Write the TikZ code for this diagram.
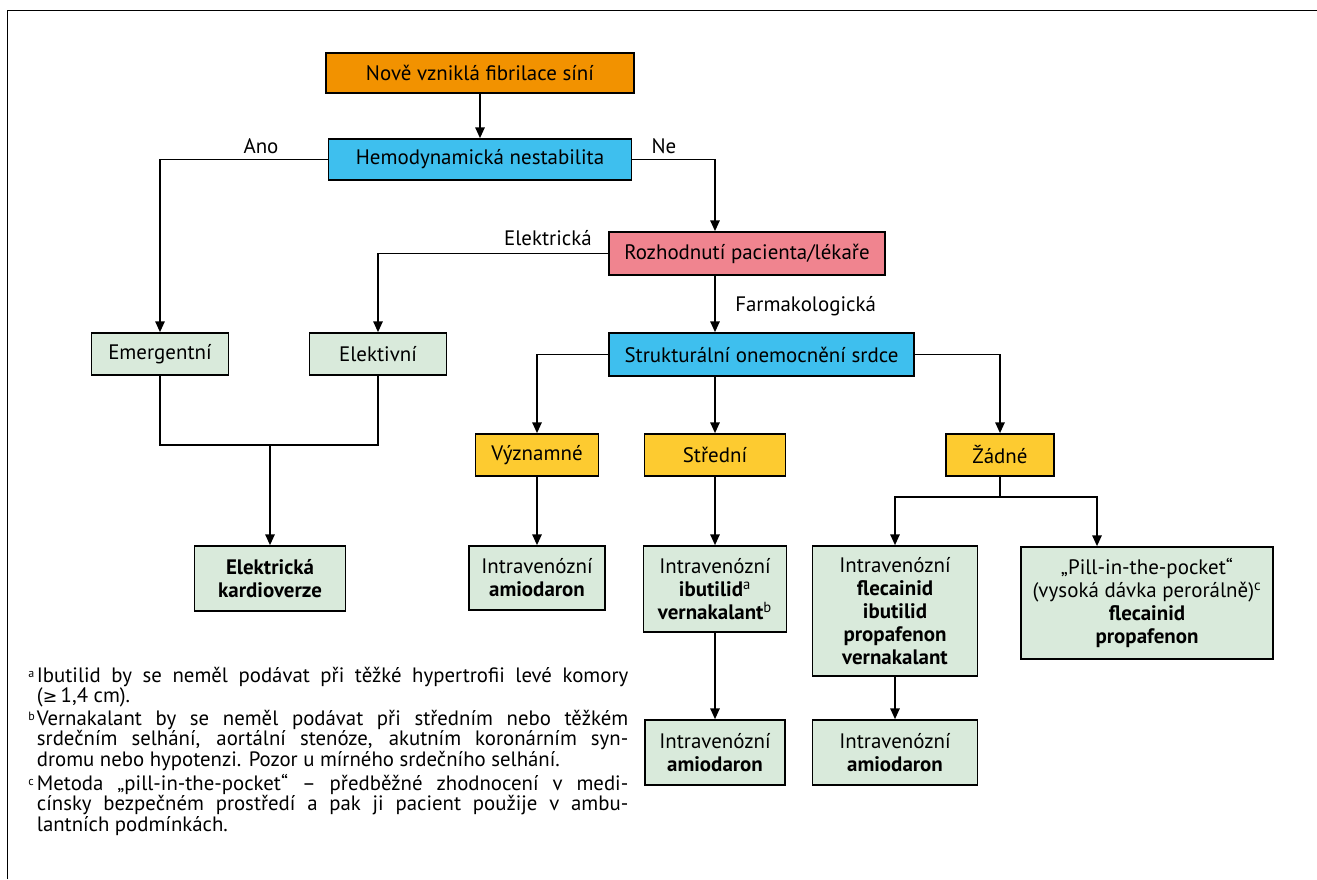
\documentclass[tikz,border=0pt]{standalone}
\usepackage{fontspec}
\setmainfont{PT Sans}
\newfontfamily\symfamily{DejaVu Sans}
\usetikzlibrary{arrows.meta,calc}

\definecolor{cOrange}{HTML}{F29200}
\definecolor{cCyan}{HTML}{3EBFEE}
\definecolor{cPink}{HTML}{F0848F}
\definecolor{cYellow}{HTML}{FDCB30}
\definecolor{cGreen}{HTML}{D9EADB}

\newcommand\boxfont{\fontsize{15.7}{17.2}\selectfont}
\newcommand\notefont{\fontsize{15.6}{15.2}\selectfont}
\newcommand\fnitem[2]{\noindent\hangindent=6.5pt\hangafter=1\makebox[6.5pt][l]{\raisebox{0.5ex}{\fontsize{9}{9}\selectfont #1}}#2\par}

\tikzset{
  box/.style 2 args={draw, line width=1.3pt, inner sep=0pt, align=center,
    font=\boxfont, minimum width=#1*0.75pt, minimum height=#2*0.75pt},
  lbl/.style={inner sep=0pt, font=\boxfont},
  link/.style={line width=1.1pt},
  arr/.style={link, -{Triangle[length=8pt,width=7pt]}},
}

\begin{document}
\begin{tikzpicture}[x=0.75pt, y=-0.75pt]
\useasboundingbox (0,0) rectangle (1317,879);

% frame
\draw[line width=1.4pt] (7.5,879) -- (7.5,10.5) -- (1317,10.5);

% column positions of vertical connectors
\coordinate (colmain) at (715,0);
\coordinate (colpill) at (1097,0);

% boxes
\node[box={308}{40}, fill=cOrange] (nove) at (480,73) {Nově vzniklá fibrilace síní};
\node[box={303}{41}, fill=cCyan] (hemo) at (480,159.5) {Hemodynamická nestabilita};
\node[box={276}{43}, fill=cPink] (rozh) at (747,253.5) {Rozhodnutí pacienta/lékaře};
\node[box={305}{43}, fill=cCyan] (strukt) at (761.5,354.5) {Strukturální onemocnění srdce};

\node[box={137}{42}, fill=cGreen] (emerg) at (160,354) {Emergentní};
\node[box={137}{42}, fill=cGreen] (elekt) at (378,354) {Elektivní};
\node[box={151}{65}, fill=cGreen] (kardio) at (270,578.5) {\bfseries Elektrická\\\bfseries kardioverze};

\node[box={123}{42}, fill=cYellow] (vyzn) at (537,455) {Významné};
\node[box={141}{42}, fill=cYellow] (stred) at (715,455) {Střední};
\node[box={108}{42}, fill=cYellow] (zadne) at (1000,455) {Žádné};

\node[box={136}{64}, fill=cGreen] (amio1) at (537,578) {Intravenózní\\\bfseries amiodaron};
\node[box={143}{86}, fill=cGreen] (ibut) at (715,589) {Intravenózní\\\textbf{ibutilid}\textsuperscript{a}\\\textbf{vernakalant}\textsuperscript{b}};
\node[box={165}{130}, fill=cGreen] (flec) at (895,611) {Intravenózní\\\bfseries flecainid\\\bfseries ibutilid\\\bfseries propafenon\\\bfseries vernakalant};
\node[box={252}{112}, fill=cGreen] (pill) at (1147,603) {„Pill-in-the-pocket“\\(vysoká dávka perorálně)\textsuperscript{c}\\\bfseries flecainid\\\bfseries propafenon};
\node[box={140}{65}, fill=cGreen] (amio2) at (715,752.5) {Intravenózní\\\bfseries amiodaron};
\node[box={165}{65}, fill=cGreen] (amio3) at (895,752.5) {Intravenózní\\\bfseries amiodaron};

% branch labels
\node[lbl] (ano) at (261,146) {Ano};
\node[lbl] (ne) at (664,146) {Ne};
\node[lbl, anchor=east] (elabel) at (592,238) {Elektrická};
\node[lbl, anchor=west] (flabel) at (735,306) {Farmakologická};

% connectors
\draw[arr] (nove) -- (hemo);
\draw[arr] (hemo.west) -| (emerg.north);
\draw[arr] (hemo.east) -| (rozh.north -| colmain);
\draw[arr] (rozh.west) -| (elekt.north);
\draw[arr] (rozh.south -| colmain) -- (strukt.north -| colmain);

\coordinate (join) at (270,445);
\draw[link] (emerg.south) |- (join) -| (elekt.south);
\draw[arr] (join) -- (kardio.north);

\draw[arr] (strukt.west) -| (vyzn.north);
\draw[arr] (strukt.south -| colmain) -- (stred.north);
\draw[arr] (strukt.east) -| (zadne.north);

\draw[arr] (vyzn) -- (amio1);
\draw[arr] (stred) -- (ibut);
\draw[arr] (ibut) -- (amio2);

\coordinate (split) at (1000,497);
\draw[link] (zadne.south) -- (split);
\draw[arr] (split) -| (flec.north);
\draw[arr] (split) -| (pill.north -| colpill);
\draw[arr] (flec) -- (amio3);

% footnotes
\node[anchor=north west, inner sep=0pt, text width=450pt, align=justify, font=\notefont] (notes) at (28,667) {%
  \tolerance=9999\hyphenpenalty=10000\emergencystretch=20pt\setlength{\parskip}{2pt}%
  \fnitem{a}{Ibutilid by se neměl podávat při těžké hypertrofii levé komory\linebreak ({\symfamily\fontsize{13}{13}\selectfont ≥}\,1,4 cm).}
  \fnitem{b}{Vernakalant by se neměl podávat při středním nebo těžkém\linebreak srdečním selhání, aortální stenóze, akutním koronárním syn-\linebreak dromu nebo hypotenzi. Pozor u mírného srdečního selhání.}
  \fnitem{c}{Metoda „pill-in-the-pocket“ – předběžné zhodnocení v medi-\linebreak cínsky bezpečném prostředí a pak ji pacient použije v ambu-\linebreak lantních podmínkách.}
};
\end{tikzpicture}
\end{document}
